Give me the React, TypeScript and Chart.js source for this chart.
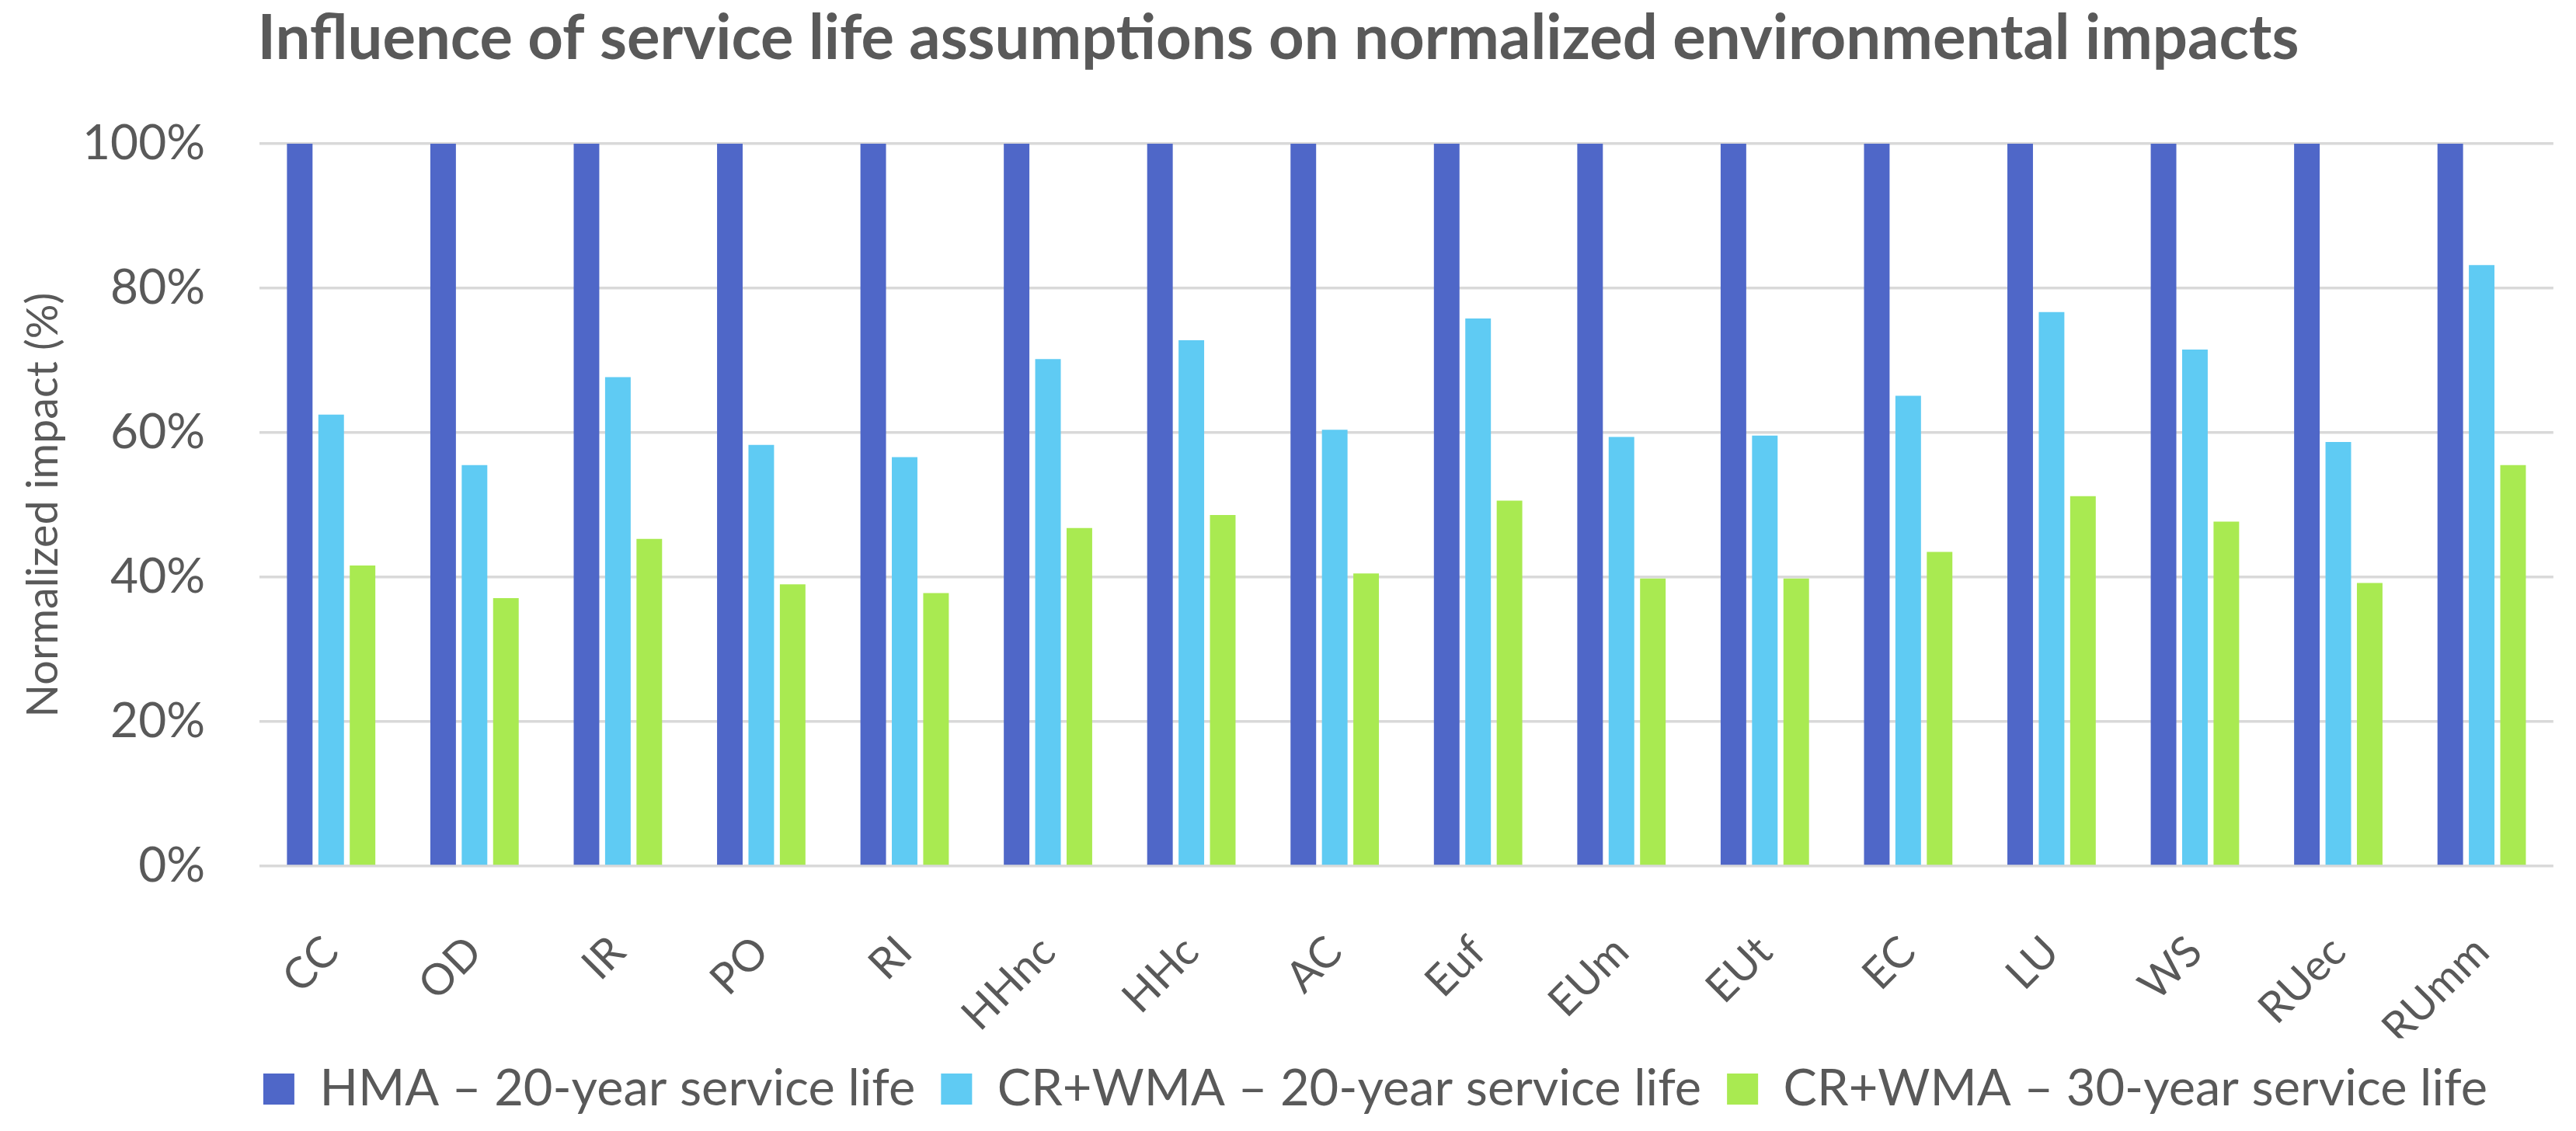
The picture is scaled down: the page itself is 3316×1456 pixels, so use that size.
import { useEffect, useRef } from "react";
import Chart from "chart.js/auto";

const categories = [
  "CC", "OD", "IR", "PO", "RI", "HHnc", "HHc", "AC",
  "Euf", "EUm", "EUt", "EC", "LU", "WS", "RUec", "RUmm",
];
const seriesNames = [
  "HMA – 20-year service life",
  "CR+WMA – 20-year service life",
  "CR+WMA – 30-year service life",
];
const hma20 = [100, 100, 100, 100, 100, 100, 100, 100, 100, 100, 100, 100, 100, 100, 100, 100];
const crWma20 = [62.5, 55.5, 67.7, 58.3, 56.6, 70.2, 72.8, 60.4, 75.8, 59.4, 59.6, 65.1, 76.7, 71.5, 58.7, 83.2];
const crWma30 = [41.6, 37.1, 45.3, 39.0, 37.8, 46.8, 48.6, 40.5, 50.6, 39.8, 39.8, 43.5, 51.2, 47.7, 39.2, 55.5];
const yTicks = [0, 20, 40, 60, 80, 100];

const W = 3316;
const H = 1456;
const TEXT = "#595959";
const FONT = "Lato";
const colors = ["#4F67C8", "#5FCBF3", "#A9EA51"];
const chartTitle = "Influence of service life assumptions on normalized environmental impacts";
const yTitle = "Normalized impact (%)";
const LEGEND_SHIFT = 40; // legend sits a little left of the plot centre

// font size that makes the text come out at the wanted width
const fitSize = (text: string, target: number, weight = "normal") => {
  const ctx = document.createElement("canvas").getContext("2d");
  if (!ctx) return 60;
  ctx.font = `${weight} 100px ${FONT}`;
  return (100 * target) / ctx.measureText(text).width;
};

const shiftLegend = {
  id: "shiftLegend",
  afterLayout(chart: Chart) {
    const lg = chart.legend;
    if (lg) {
      lg.left -= LEGEND_SHIFT;
      lg.right -= LEGEND_SHIFT;
    }
  },
};

const App = () => {
  const canvasRef = useRef<HTMLCanvasElement | null>(null);
  const chartRef = useRef<Chart | null>(null);

  useEffect(() => {
    if (chartRef.current) chartRef.current.destroy();
    const ctx = canvasRef.current?.getContext("2d");
    if (!ctx) return;

    const titleSize = fitSize(chartTitle, 2628, "bold");
    const legendSize = fitSize(seriesNames[0], 767);
    const yTickSize = fitSize("100%", 158);
    const yTitleSize = fitSize(yTitle, 547);
    const xTickSize = fitSize("HHncRUmmCC", 381);

    const plotTop = 185;
    const plotBottom = 1115;
    const plotLeft = 334;
    const plotRight = 3291;
    const legendPad = 33;
    const padBottom = H - (1412 + legendSize / 2);
    const legendTop = H - padBottom - (legendSize + legendPad + 10);
    const titlePadTop = 50 - titleSize / 2;

    chartRef.current = new Chart(ctx, {
      type: "bar",
      data: {
        labels: categories,
        datasets: [hma20, crWma20, crWma30].map((d, i) => ({
          label: seriesNames[i],
          data: d,
          backgroundColor: colors[i],
          borderWidth: 0,
          categoryPercentage: 0.657,
          barPercentage: 0.815,
        })),
      },
      options: {
        responsive: false,
        animation: false,
        layout: {
          padding: { left: 0, top: 0, right: W - plotRight, bottom: padBottom },
        },
        plugins: {
          title: {
            display: true,
            text: chartTitle,
            color: TEXT,
            font: { family: FONT, size: titleSize, weight: "bold", lineHeight: 1 },
            padding: { top: titlePadTop, bottom: plotTop - titlePadTop - titleSize },
          },
          legend: {
            position: "bottom",
            fullSize: false,
            labels: {
              boxWidth: 40,
              boxHeight: 40,
              padding: legendPad,
              color: TEXT,
              font: { family: FONT, size: legendSize },
            },
          },
          tooltip: { enabled: false },
        },
        scales: {
          x: {
            grid: { display: false, drawTicks: false },
            border: { display: false },
            ticks: {
              color: TEXT,
              font: { family: FONT, size: xTickSize, lineHeight: 1 },
              minRotation: 45,
              maxRotation: 45,
              autoSkip: false,
              padding: 101 - 0.354 * xTickSize,
            },
            afterFit: (s) => {
              s.height = legendTop - plotBottom;
            },
          },
          y: {
            min: 0,
            max: 100,
            afterBuildTicks: (s) => {
              s.ticks = yTicks.map((v) => ({ value: v }));
            },
            grid: { color: "#D9D9D9", lineWidth: 3.5, drawTicks: false },
            border: { display: false },
            ticks: {
              color: TEXT,
              font: { family: FONT, size: yTickSize },
              padding: 70,
              callback: (v) => `${v}%`,
            },
            title: {
              display: true,
              text: yTitle,
              color: TEXT,
              font: { family: FONT, size: yTitleSize, lineHeight: 1 },
              padding: { top: 56 - yTitleSize / 2, bottom: 0 },
            },
            afterFit: (s) => {
              s.width = plotLeft;
            },
          },
        },
      },
      plugins: [shiftLegend],
    });

    return () => {
      if (chartRef.current) {
        chartRef.current.destroy();
        chartRef.current = null;
      }
    };
  }, []);

  return (
    <div style={{ position: "fixed", left: 0, top: 0, width: W, height: H, background: "#fff" }}>
      <canvas ref={canvasRef} width={W} height={H} style={{ display: "block" }}></canvas>
    </div>
  );
};

export default App;
